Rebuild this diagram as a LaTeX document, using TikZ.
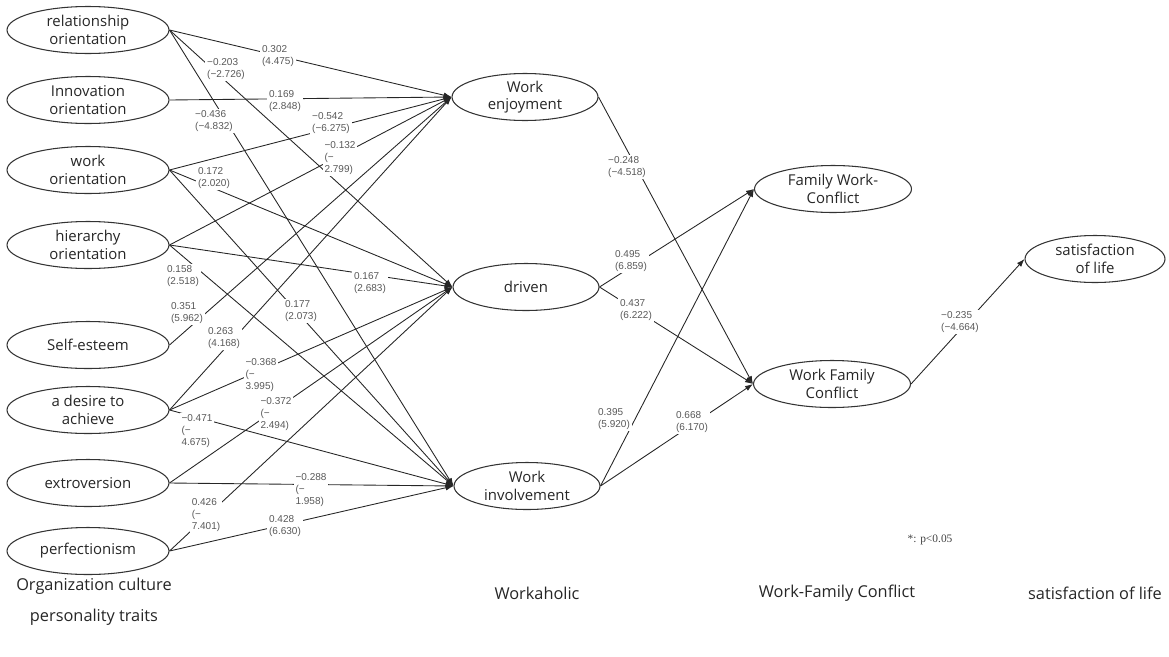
\documentclass[tikz,border=0pt]{standalone}
\usepackage{fontspec}
\setmainfont{Open Sans}
\newfontfamily\coeffont{Liberation Sans}
\newfontfamily\notefont{Liberation Serif}
\usetikzlibrary{shapes.geometric,arrows.meta}

\begin{document}
\begin{tikzpicture}[x=0.02cm,y=-0.02cm,
  latent/.style={ellipse,draw=black!80,line width=0.6pt,inner sep=0pt,minimum height=0.94cm,align=center,font=\fontsize{8.5}{10}\selectfont,text=black!85},
  exo/.style={latent,minimum width=3.24cm},
  wrk/.style={latent,minimum width=2.92cm},
  cnf/.style={latent,minimum width=3.14cm},
  effect/.style={draw=black!85,line width=0.5pt,-{Latex[length=4.5pt,width=3.2pt]}},
  coef/.style={fill=white,inner sep=1pt,align=left,font=\coeffont\fontsize{5.7}{6.8}\selectfont,text=black!65},
  colname/.style={font=\fontsize{9.3}{11}\selectfont,text=black!85}]
\useasboundingbox (0,0) rectangle (1169,656);
 % organization culture / personality traits:
\node[exo] (rel) at (88,30) {relationship\\orientation};
\node[exo] (inn) at (88,100) {Innovation\\orientation};
\node[exo] (wor) at (88,170) {work\\orientation};
\node[exo] (hie) at (88,245) {hierarchy\\orientation};
\node[exo] (sel) at (88,345) {Self-esteem};
\node[exo] (des) at (88,410) {a desire to\\achieve};
\node[exo] (ext) at (88,483) {extroversion};
\node[exo] (per) at (88,551) {perfectionism};
 % workaholic:
\node[wrk] (enj) at (525,97) {Work\\enjoyment};
\node[wrk] (drv) at (526,287) {driven};
\node[wrk] (inv) at (527,486) {Work\\involvement};
 % conflict and satisfaction:
\node[cnf] (fwc) at (833,189) {Family Work-\\Conflict};
\node[cnf] (wfc) at (832,384) {Work Family\\Conflict};
\node[latent,minimum width=2.8cm] (sat) at (1095,259) {satisfaction\\of life};

 % paths into workaholic:
\draw[effect] (rel.east) -- (enj.west);
\draw[effect] (rel.east) -- (drv.west);
\draw[effect] (rel.east) -- (inv.west);
\draw[effect] (inn.east) -- (enj.west);
\draw[effect] (wor.east) -- (enj.west);
\draw[effect] (wor.east) -- (drv.west);
\draw[effect] (wor.east) -- (inv.west);
\draw[effect] (hie.east) -- (enj.west);
\draw[effect] (hie.east) -- (drv.west);
\draw[effect] (hie.east) -- (inv.west);
\draw[effect] (sel.east) -- (enj.west);
\draw[effect] (des.east) -- (enj.west);
\draw[effect] (des.east) -- (drv.west);
\draw[effect] (des.east) -- (inv.west);
\draw[effect] (ext.east) -- (drv.west);
\draw[effect] (ext.east) -- (inv.west);
\draw[effect] (per.east) -- (drv.west);
\draw[effect] (per.east) -- (inv.west);
 % paths on the right:
\draw[effect] (enj.east) -- (wfc.west);
\draw[effect] (drv.east) -- (fwc.west);
\draw[effect] (drv.east) -- (wfc.west);
\draw[effect] (inv.east) -- (fwc.west);
\draw[effect] (inv.east) -- (wfc.west);
\draw[effect] (wfc.east) -- (sat.west);

 % coefficients (t values):
\node[coef] (k1) at (278,56) {0.302\\(4.475)};
\node[coef] (k2) at (226,69) {−0.203\\(−2.726)};
\node[coef] (k3) at (285,101) {0.169\\(2.848)};
\node[coef] (k4) at (214,121) {−0.436\\(−4.832)};
\node[coef] (k5) at (331,123) {−0.542\\(−6.275)};
\node[coef] (k6) at (340,158) {−0.132\\(−\\2.799)};
\node[coef] (k7) at (214,178) {0.172\\(2.020)};
\node[coef] (k8) at (183,276) {0.158\\(2.518)};
\node[coef] (k9) at (370,283) {0.167\\(2.683)};
\node[coef] (k10) at (187,313) {0.351\\(5.962)};
\node[coef] (k11) at (301,311) {0.177\\(2.073)};
\node[coef] (k12) at (224,338) {0.263\\(4.168)};
\node[coef] (k13) at (261,375) {−0.368\\(−\\3.995)};
\node[coef] (k14) at (276,414) {−0.372\\(−\\2.494)};
\node[coef] (k15) at (197,431) {−0.471\\(−\\4.675)};
\node[coef] (k16) at (311,490) {−0.288\\(−\\1.958)};
\node[coef] (k17) at (206,515) {0.426\\(−\\7.401)};
\node[coef] (k18) at (285,526) {0.428\\(6.630)};
\node[coef] (k19) at (627,167) {−0.248\\(−4.518)};
\node[coef] (k20) at (631,261) {0.495\\(6.859)};
\node[coef] (k21) at (636,310) {0.437\\(6.222)};
\node[coef] (k22) at (614,419) {0.395\\(5.920)};
\node[coef] (k23) at (692,422) {0.668\\(6.170)};
\node[coef] (k24) at (960,322) {−0.235\\(−4.664)};
\node[font=\notefont\fontsize{6.5}{8}\selectfont,text=black!75] (note) at (930,540) {*: p<0.05};

 % column names:
\node[colname] (c1) at (94,586) {Organization culture};
\node[colname] (c2) at (94,617) {personality traits};
\node[colname] (c3) at (537,593) {Workaholic};
\node[colname] (c4) at (837,593) {Work-Family Conflict};
\node[colname,anchor=east] (c5) at (1168,593) {satisfaction of life};
\end{tikzpicture}
\end{document}
